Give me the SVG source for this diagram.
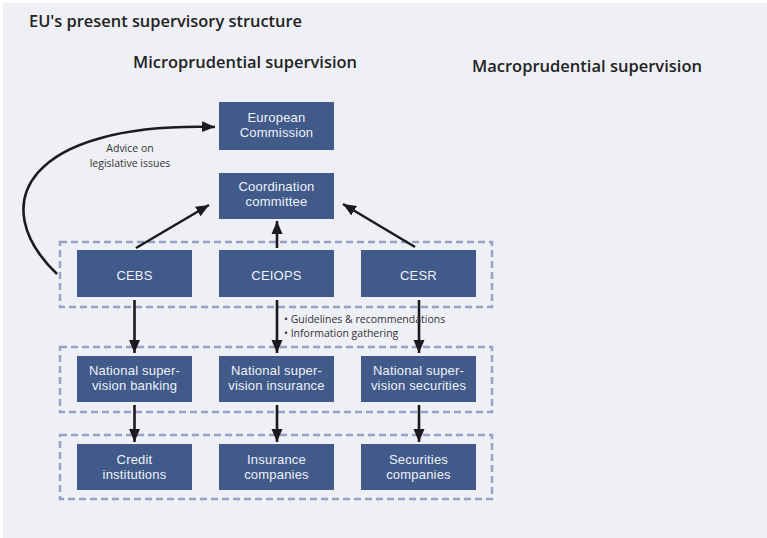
<svg xmlns="http://www.w3.org/2000/svg" width="767" height="538" viewBox="0 0 767 538">
<defs>
<style>
.bg{fill:#eff0f6}
.box{fill:#415a8a}
.bt{fill:#eef1f8;font-family:"Liberation Sans",Arial,sans-serif;font-size:13px;text-anchor:middle;letter-spacing:0.2px}
.grp{fill:none;stroke:#97a2c6;stroke-width:2.5;stroke-dasharray:7 4}
.ar{fill:none;stroke:#1c1a1c;stroke-width:2.6}
.lbl{fill:#333;font-family:"Open Sans","Liberation Sans",sans-serif;font-size:10.5px}
.ttl{fill:#222;font-family:"Open Sans","Liberation Sans",sans-serif;font-weight:600}
</style>
<marker id="ah" markerUnits="userSpaceOnUse" markerWidth="14" markerHeight="14" viewBox="0 0 14 14" refX="13" refY="7" orient="auto">
<path d="M0,1.5 L13,7 L0,12.5 Z" fill="#1c1a1c"/>
</marker>
</defs>
<rect class="bg" x="3" y="3" width="764" height="535"/>
<text class="ttl" x="29" y="27" font-size="16" textLength="273" lengthAdjust="spacingAndGlyphs">EU's present supervisory structure</text>
<text class="ttl" x="133" y="68" font-size="16" textLength="224" lengthAdjust="spacingAndGlyphs">Microprudential supervision</text>
<text class="ttl" x="472" y="72" font-size="16" textLength="230" lengthAdjust="spacingAndGlyphs">Macroprudential supervision</text>

<g id="groups">
<rect class="grp" x="60" y="242" width="432" height="65"/>
<rect class="grp" x="60" y="347" width="432" height="65"/>
<rect class="grp" x="60" y="435" width="432" height="64"/>
</g>

<g id="connectors">
<path class="ar" d="M57,274 C -15,205 25,122 215,127" marker-end="url(#ah)"/>
<line class="ar" x1="136" y1="248" x2="209" y2="205" marker-end="url(#ah)"/>
<line class="ar" x1="277" y1="248" x2="277" y2="221" marker-end="url(#ah)"/>
<line class="ar" x1="415" y1="247" x2="343" y2="204" marker-end="url(#ah)"/>
<line class="ar" x1="134.5" y1="300" x2="134.5" y2="353" marker-end="url(#ah)"/>
<line class="ar" x1="277" y1="300" x2="277" y2="353" marker-end="url(#ah)"/>
<line class="ar" x1="419" y1="300" x2="419" y2="353" marker-end="url(#ah)"/>
<line class="ar" x1="134.5" y1="405" x2="134.5" y2="442" marker-end="url(#ah)"/>
<line class="ar" x1="277" y1="405" x2="277" y2="442" marker-end="url(#ah)"/>
<line class="ar" x1="419" y1="405" x2="419" y2="442" marker-end="url(#ah)"/>
<text class="lbl" text-anchor="middle"><tspan x="130" y="152">Advice on</tspan><tspan x="130" y="166.5">legislative issues</tspan></text>
<text class="lbl"><tspan x="284" y="322.5">• Guidelines &amp; recommendations</tspan><tspan x="284" y="336.5">• Information gathering</tspan></text>
</g>

<g id="ec"><rect class="box" x="219" y="102" width="115" height="48"/><text class="bt"><tspan x="276.5" y="122">European</tspan><tspan x="276.5" y="136.7">Commission</tspan></text></g>
<g id="cc"><rect class="box" x="219" y="173" width="115" height="46"/><text class="bt"><tspan x="276.5" y="191.3">Coordination</tspan><tspan x="276.5" y="206">committee</tspan></text></g>
<g id="cebs"><rect class="box" x="77" y="250" width="115" height="47"/><text class="bt" x="134.5" y="280">CEBS</text></g>
<g id="ceiops"><rect class="box" x="219" y="250" width="115" height="47"/><text class="bt" x="276.5" y="280">CEIOPS</text></g>
<g id="cesr"><rect class="box" x="361" y="250" width="115" height="47"/><text class="bt" x="418.5" y="280">CESR</text></g>
<g id="nsb"><rect class="box" x="77" y="356" width="115" height="46"/><text class="bt"><tspan x="134.5" y="375">National super-</tspan><tspan x="134.5" y="389.7">vision banking</tspan></text></g>
<g id="nsi"><rect class="box" x="219" y="356" width="115" height="46"/><text class="bt"><tspan x="276.5" y="375">National super-</tspan><tspan x="276.5" y="389.7">vision insurance</tspan></text></g>
<g id="nss"><rect class="box" x="361" y="356" width="115" height="46"/><text class="bt"><tspan x="418.5" y="375">National super-</tspan><tspan x="418.5" y="389.7">vision securities</tspan></text></g>
<g id="ci"><rect class="box" x="77" y="444" width="115" height="46"/><text class="bt"><tspan x="134.5" y="464">Credit</tspan><tspan x="134.5" y="478.7">institutions</tspan></text></g>
<g id="ic"><rect class="box" x="219" y="444" width="115" height="46"/><text class="bt"><tspan x="276.5" y="464">Insurance</tspan><tspan x="276.5" y="478.7">companies</tspan></text></g>
<g id="sc"><rect class="box" x="361" y="444" width="115" height="46"/><text class="bt"><tspan x="418.5" y="464">Securities</tspan><tspan x="418.5" y="478.7">companies</tspan></text></g>
</svg>
